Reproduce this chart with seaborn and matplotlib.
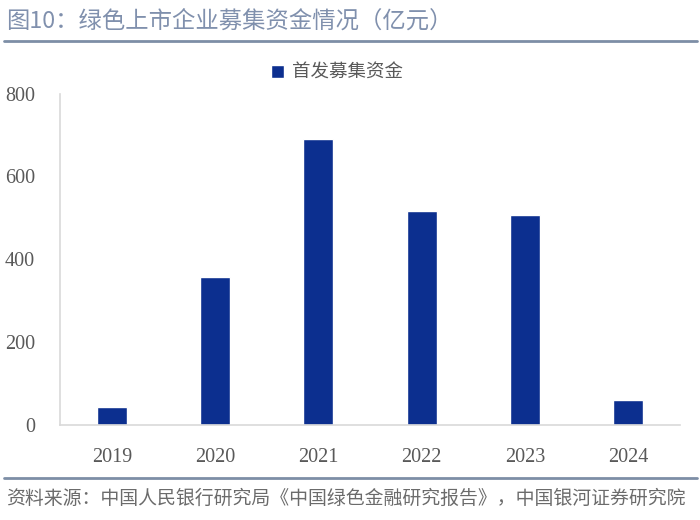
import matplotlib
matplotlib.use("Agg")
import matplotlib.pyplot as plt
import seaborn as sns
import pandas as pd

# --- Data ---
years = ["2019", "2020", "2021", "2022", "2023", "2024"]
ipo_funds = [43, 357, 690, 516, 507, 60]
series_name = "首发募集资金"
title_text = "图10：绿色上市企业募集资金情况（亿元）"
source_text = "资料来源：中国人民银行研究局《中国绿色金融研究报告》，中国银河证券研究院"

df = pd.DataFrame({"year": years, "value": ipo_funds})

# --- Style ---
sns.set_theme(style="white")
plt.rcParams["font.family"] = ["Noto Sans CJK SC", "DejaVu Sans"]
num_font = ["Liberation Serif", "DejaVu Serif"]

bar_color = "#0c2f8f"
rule_color = "#7d8ea6"
title_color = "#8090ad"
tick_color = "#595959"

fig = plt.figure(figsize=(7, 5.2), dpi=100)
ax = fig.add_axes([0.086, 0.183, 0.885, 0.637])

sns.barplot(data=df, x="year", y="value", color=bar_color, width=0.29,
            saturation=1, ax=ax, label=series_name)

ax.set_ylim(0, 800)
ax.set_yticks([0, 200, 400, 600, 800])
ax.set_xlim(-0.5, 5.5)
ax.set_xlabel("")
ax.set_ylabel("")

for side in ["top", "right"]:
    ax.spines[side].set_visible(False)
ax.spines["left"].set_color("#d9d9d9")
ax.spines["bottom"].set_color("#d9d9d9")
ax.spines["left"].set_linewidth(1.2)
ax.spines["bottom"].set_linewidth(1.2)

ax.tick_params(axis="both", length=0, colors=tick_color, labelsize=14.5)
ax.tick_params(axis="x", pad=17)
ax.tick_params(axis="y", pad=18)
for lbl in ax.get_xticklabels() + ax.get_yticklabels():
    lbl.set_fontfamily(num_font)

leg = ax.legend(loc="upper center", bbox_to_anchor=(0.447, 1.14), frameon=False,
                fontsize=13.3, handlelength=0.7, handleheight=0.7, handletextpad=0.4)
for t in leg.get_texts():
    t.set_color(tick_color)

# title and rules
fig.text(0.008, 0.96, title_text, fontsize=16.8, color=title_color, va="center", ha="left")
fig.add_artist(plt.Line2D([0.005, 0.995], [0.922, 0.922], color=rule_color, linewidth=2))
fig.add_artist(plt.Line2D([0.005, 0.995], [0.081, 0.081], color=rule_color, linewidth=2))
fig.text(0.008, 0.042, source_text, fontsize=13.6, color="#6b6b6b", va="center",
         ha="left", style="italic")

plt.savefig("out.png", dpi=100)
plt.close()
